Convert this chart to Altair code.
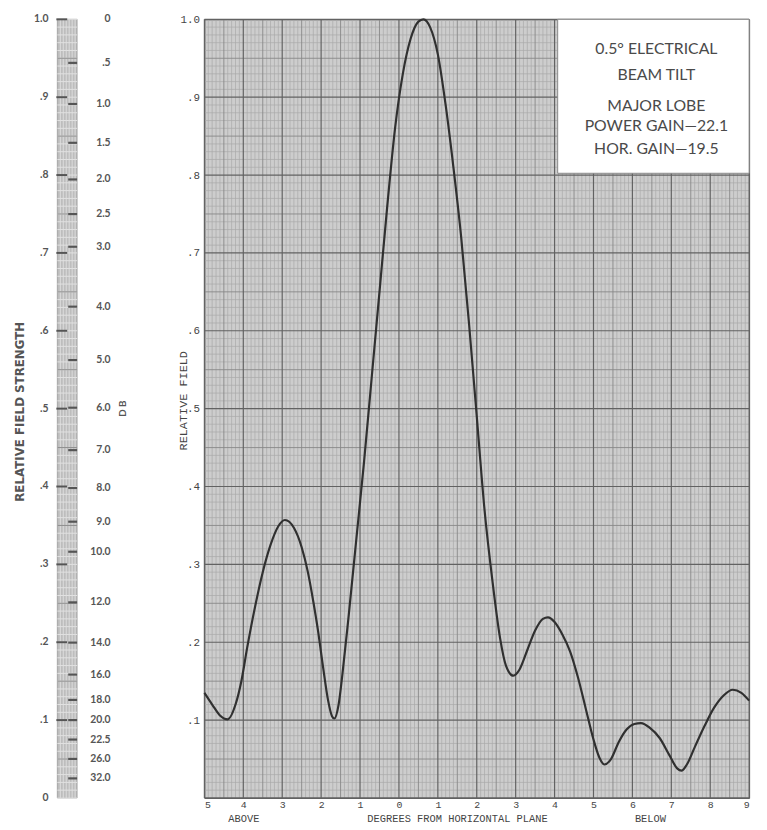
import altair as alt
import pandas as pd
import numpy as np

# ---- data ----
deg = [-5.0, -4.8, -4.6, -4.4, -4.2, -4.05, -3.9, -3.7, -3.5, -3.3, -3.1, -2.93, -2.7, -2.5,
       -2.34, -2.2, -2.08, -1.95, -1.82, -1.72, -1.66, -1.55, -1.45, -1.3, -1.1, -0.9, -0.7,
       -0.5, -0.3, -0.1, 0.1, 0.3, 0.5, 0.63, 0.8, 1.0, 1.2, 1.4, 1.6, 1.8, 2.0, 2.2, 2.4,
       2.6, 2.75, 2.94, 3.1, 3.3, 3.5, 3.7, 3.83, 4.0, 4.2, 4.4, 4.6, 4.8, 5.0, 5.15, 5.28,
       5.45, 5.65, 5.85, 6.05, 6.22, 6.45, 6.7, 6.95, 7.15, 7.26, 7.4, 7.6, 7.85, 8.1, 8.35,
       8.58, 8.8, 9.0]
field = [0.135, 0.12, 0.106, 0.101, 0.12, 0.15, 0.193, 0.245, 0.29, 0.325, 0.349, 0.357, 0.347, 0.322,
         0.29, 0.252, 0.215, 0.168, 0.125, 0.105, 0.102, 0.12, 0.16, 0.23, 0.33, 0.43, 0.54,
         0.65, 0.76, 0.86, 0.93, 0.975, 0.997, 1.0, 0.99, 0.955, 0.89, 0.81, 0.72, 0.61, 0.49, 0.37, 0.28,
         0.205, 0.17, 0.157, 0.165, 0.19, 0.215, 0.23, 0.232, 0.226, 0.21, 0.188, 0.155, 0.115, 0.075, 0.052, 0.043,
         0.05, 0.072, 0.088, 0.095, 0.096, 0.09, 0.077, 0.055, 0.038, 0.035, 0.043, 0.065, 0.092, 0.116, 0.132,
         0.139, 0.135, 0.125]

x_ticks = list(range(-5, 10))
y_ticks = [0.1, 0.2, 0.3, 0.4, 0.5, 0.6, 0.7, 0.8, 0.9, 1.0]

rel_values = [1.0, 0.9, 0.8, 0.7, 0.6, 0.5, 0.4, 0.3, 0.2, 0.1, 0.0]
rel_labels = ["1.0", ".9", ".8", ".7", ".6", ".5", ".4", ".3", ".2", ".1", "0"]
db_values = [0, 0.5, 1.0, 1.5, 2.0, 2.5, 3.0, 4.0, 5.0, 6.0, 7.0, 8.0, 9.0, 10.0,
             12.0, 14.0, 16.0, 18.0, 20.0, 22.5, 26.0, 32.0]
db_labels = ["0", ".5", "1.0", "1.5", "2.0", "2.5", "3.0", "4.0", "5.0", "6.0", "7.0",
             "8.0", "9.0", "10.0", "12.0", "14.0", "16.0", "18.0", "20.0", "22.5", "26.0", "32.0"]

box_lines = ["0.5° ELECTRICAL", "BEAM TILT", "MAJOR LOBE", "POWER GAIN—22.1", "HOR. GAIN—19.5"]

W, H = 552, 789
xs = alt.Scale(domain=[-5, 9], nice=False, zero=False)
ys = alt.Scale(domain=[0, 1], nice=False, zero=False)

AX = alt.Axis(
    values=x_ticks, labelExpr="'' + abs(datum.value)", grid=False, ticks=False, domain=False,
    labelFont="Liberation Mono", labelFontSize=10, labelColor="#444", labelPadding=2,
    title="DEGREES FROM HORIZONTAL PLANE", titleFont="Liberation Mono", titleFontSize=10.5,
    titleFontWeight="normal", titleColor="#444", titleX=256, titleY=21, titleBaseline="middle")
AY = alt.Axis(
    values=y_ticks, labelExpr="datum.value == 1 ? '1.0' : '.' + round(datum.value * 10)",
    grid=False, ticks=False, domain=False, labelFont="Liberation Mono", labelFontSize=11,
    labelColor="#444", labelPadding=5,
    title="RELATIVE FIELD", titleFont="Liberation Mono", titleFontSize=12,
    titleFontWeight="normal", titleColor="#444", titleX=-22, titleY=386, titleBaseline="middle")

# ---- graph paper grid ----
gx = np.round(np.arange(-5, 9.0001, 0.1), 2)
gx_df = pd.DataFrame({"gx": gx})
gx_df["kind"] = ["major" if abs(v - round(v)) < 1e-6 else ("mid" if abs(v * 2 - round(v * 2)) < 1e-6 else "minor") for v in gx]
gy = np.round(np.arange(0, 1.0001, 0.01), 3)
gy_df = pd.DataFrame({"gy": gy})
gy_df["kind"] = ["major" if abs(v * 10 - round(v * 10)) < 1e-6 else ("mid" if abs(v * 20 - round(v * 20)) < 1e-6 else "minor") for v in gy]

style = {"minor": ("#a9a9a9", 0.7), "mid": ("#878787", 0.9), "major": ("#626262", 1.2)}

layers = []
for k in ["minor", "mid", "major"]:
    c, w = style[k]
    layers.append(alt.Chart(gx_df[gx_df.kind == k]).mark_rule(color=c, strokeWidth=w).encode(
        x=alt.X("gx:Q", scale=xs, axis=AX)))
    layers.append(alt.Chart(gy_df[gy_df.kind == k]).mark_rule(color=c, strokeWidth=w).encode(
        y=alt.Y("gy:Q", scale=ys, axis=AY)))

# ---- curve ----
curve_df = pd.DataFrame({"deg": deg, "field": field})
layers.append(alt.Chart(curve_df).mark_line(color="#303030", strokeWidth=2.2, interpolate="monotone").encode(
    x=alt.X("deg:Q", scale=xs, axis=AX),
    y=alt.Y("field:Q", scale=ys, axis=AY)))

# ---- ABOVE / BELOW ----
for txt, px in [("ABOVE", 40), ("BELOW", 452)]:
    layers.append(alt.Chart(pd.DataFrame({"t": [txt]})).mark_text(
        font="Liberation Mono", fontSize=10.5, color="#444", baseline="middle").encode(
        text="t:N", x=alt.value(px), y=alt.value(H + 21)))

# ---- annotation box ----
layers.append(alt.Chart(pd.DataFrame({"t": [""]})).mark_rect(fill="white", stroke="#888", strokeWidth=1).encode(
    x=alt.value(358), x2=alt.value(W), y=alt.value(0), y2=alt.value(156)))
for line, py in zip(box_lines, [30, 56, 88, 108, 131]):
    layers.append(alt.Chart(pd.DataFrame({"t": [line]})).mark_text(
        font="Lato", fontSize=16, color="#4a4a4a", baseline="middle", align="center").encode(
        text="t:N", x=alt.value(458), y=alt.value(py)))

# ---- left relative field / dB scale ----
BL, BR, BM = -149, -129, -139
bar_df = pd.DataFrame({"top": [1.0], "bot": [0.0]})
layers.append(alt.Chart(bar_df).mark_rect(fill="#bdbdbd", stroke="#999", strokeWidth=0.8).encode(
    y=alt.Y("top:Q", scale=ys, axis=AY), y2="bot:Q", x=alt.value(BL), x2=alt.value(BR)))
bar_grid = pd.DataFrame({"v": gy})
layers.append(alt.Chart(bar_grid).mark_rule(color="#e6e6e6", strokeWidth=0.9).encode(
    y=alt.Y("v:Q", scale=ys, axis=AY), x=alt.value(BL), x2=alt.value(BR)))
for px in [BL + 3, BL + 6, BL + 9, BL + 12, BL + 15, BL + 18]:
    layers.append(alt.Chart(bar_df).mark_rule(color="#e0e0e0", strokeWidth=0.9).encode(
        y=alt.Y("top:Q", scale=ys, axis=AY), y2="bot:Q", x=alt.value(px)))
mid_df = pd.DataFrame({"v": np.round(np.arange(0.05, 1.0, 0.1), 2)})
layers.append(alt.Chart(mid_df).mark_rule(color="#8a8a8a", strokeWidth=1).encode(
    y=alt.Y("v:Q", scale=ys, axis=AY), x=alt.value(BL), x2=alt.value(BR)))
rel_df = pd.DataFrame({"v": rel_values, "lab": rel_labels})
layers.append(alt.Chart(rel_df[rel_df.v > 0]).mark_rule(color="#555", strokeWidth=2).encode(
    y=alt.Y("v:Q", scale=ys, axis=AY), x=alt.value(BL - 1), x2=alt.value(BM)))
db_df = pd.DataFrame({"db": db_values, "lab": db_labels})
db_df["v"] = 10 ** (-db_df["db"] / 20.0)
layers.append(alt.Chart(db_df[db_df.db > 0]).mark_rule(color="#555", strokeWidth=2.2).encode(
    y=alt.Y("v:Q", scale=ys, axis=AY), x=alt.value(BM + 1), x2=alt.value(BR)))
layers.append(alt.Chart(rel_df).mark_text(font="Lato", fontWeight="bold", fontSize=10.5, color="#555",
                                          align="right", baseline="middle").encode(
    y=alt.Y("v:Q", scale=ys, axis=AY), text="lab:N", x=alt.value(-158)))
layers.append(alt.Chart(db_df).mark_text(font="Lato", fontWeight="bold", fontSize=10.5, color="#555",
                                         align="right", baseline="middle").encode(
    y=alt.Y("v:Q", scale=ys, axis=AY), text="lab:N", x=alt.value(-95)))
layers.append(alt.Chart(pd.DataFrame({"t": ["D B"], "v": [0.5]})).mark_text(
    font="Lato", fontWeight="bold", fontSize=10, color="#555", angle=270, baseline="middle").encode(
    y=alt.Y("v:Q", scale=ys, axis=AY), text="t:N", x=alt.value(-82)))
layers.append(alt.Chart(pd.DataFrame({"t": ["RELATIVE  FIELD  STRENGTH"], "v": [0.496]})).mark_text(
    font="DejaVu Sans", fontWeight="bold", fontSize=12, color="#555", angle=270, baseline="middle").encode(
    y=alt.Y("v:Q", scale=ys, axis=AY), text="t:N", x=alt.value(-187)))

chart = alt.layer(*layers).properties(
    width=W, height=H, background="white",
    padding={"left": 5, "top": 0, "right": 5, "bottom": 0},
).configure_view(fill="#cdcdcd", stroke="#555", strokeWidth=1)

chart.save("out.html", embed_options={"renderer": "svg", "actions": False})
